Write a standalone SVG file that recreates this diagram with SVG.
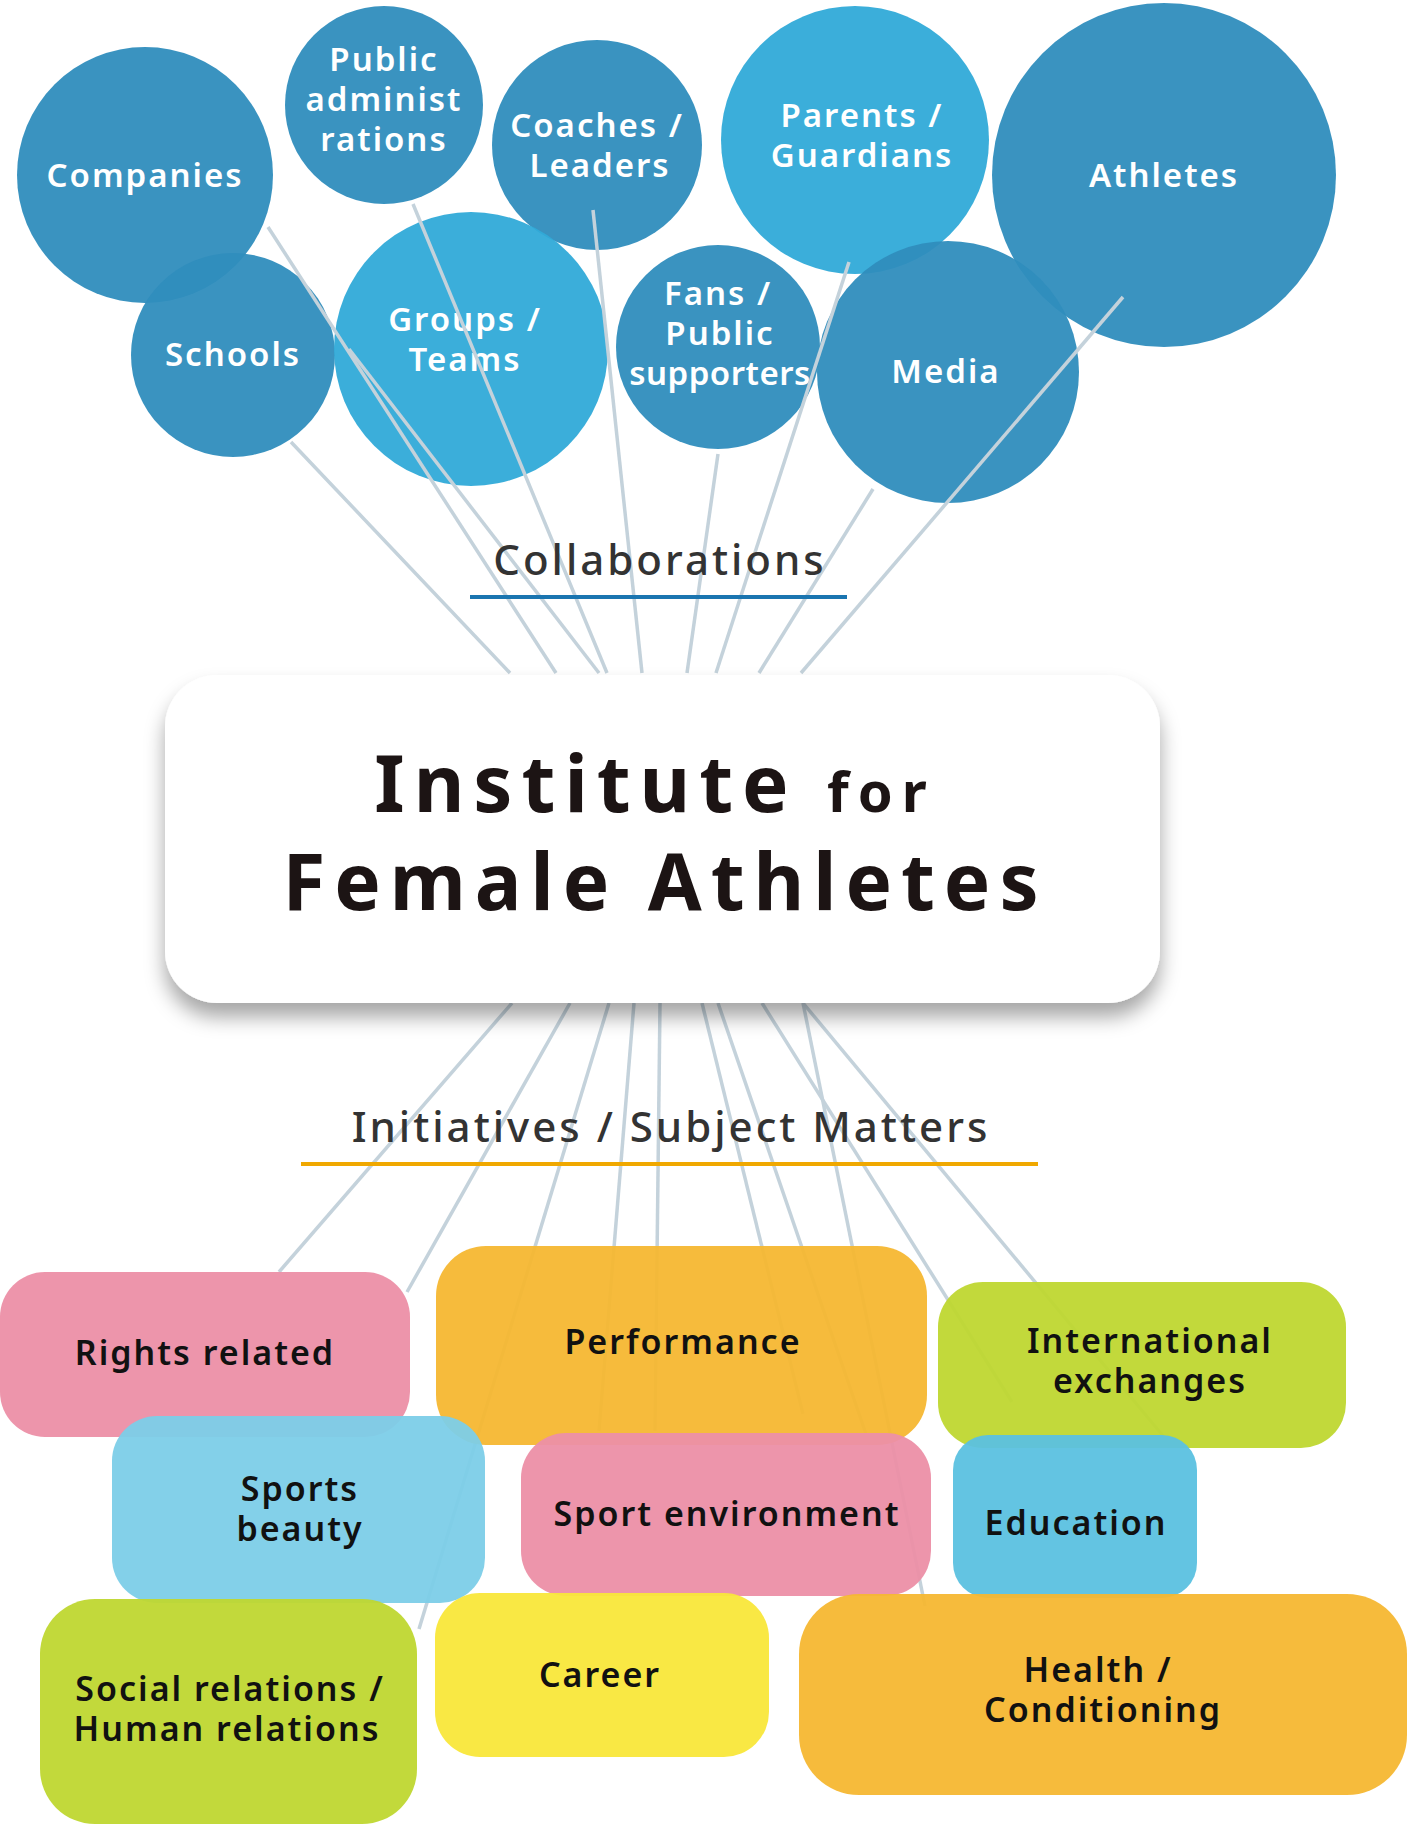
<svg xmlns="http://www.w3.org/2000/svg" width="1408" height="1824" viewBox="0 0 1408 1824">
<defs>
<filter id="sh" x="-10%" y="-10%" width="120%" height="130%"><feDropShadow dx="0" dy="14" stdDeviation="10" flood-color="#000" flood-opacity="0.35"/></filter>
<style>
.d{fill:#2f8dbd;opacity:0.95}
.l{fill:#30aad8;opacity:0.95}
.ct{font-family:"Noto Sans",sans-serif;font-weight:600;font-size:33px;fill:#fff;text-anchor:middle;letter-spacing:2px}
.bt{font-family:"Noto Sans",sans-serif;font-weight:600;font-size:34px;fill:#111;text-anchor:middle;letter-spacing:2px}
.ln{stroke:#c4d2db;stroke-width:3.5;fill:none}
.hd{font-family:"Noto Sans",sans-serif;font-weight:500;font-size:42px;fill:#333;text-anchor:middle;letter-spacing:3px}
</style>
</defs>
<g id="circles">
<g id="companies"><circle class="d" cx="145" cy="175" r="128"/><text class="ct" x="145" y="187">Companies</text></g>
<g id="public"><circle class="d" cx="384" cy="105" r="99"/><text class="ct" x="384" y="71">Public</text><text class="ct" x="384" y="111">administ</text><text class="ct" x="384" y="151">rations</text></g>
<g id="coaches"><circle class="d" cx="597" cy="145" r="105"/><text class="ct" x="597" y="137">Coaches /</text><text class="ct" x="600" y="177">Leaders</text></g>
<g id="parents"><circle class="l" cx="855" cy="140" r="134"/><text class="ct" x="862" y="127">Parents /</text><text class="ct" x="862" y="167">Guardians</text></g>
<g id="athletes"><circle class="d" cx="1164" cy="175" r="172"/><text class="ct" x="1164" y="187">Athletes</text></g>
<g id="schools"><circle class="d" cx="233" cy="355" r="102"/><text class="ct" x="233" y="366">Schools</text></g>
<g id="groups"><circle class="l" cx="471" cy="349" r="137"/><text class="ct" x="465" y="331">Groups /</text><text class="ct" x="465" y="371">Teams</text></g>
<g id="fans"><circle class="d" cx="718" cy="347" r="102"/><text class="ct" x="718" y="305">Fans /</text><text class="ct" x="720" y="345">Public</text><text class="ct" x="720" y="385" style="letter-spacing:0.5px">supporters</text></g>
<g id="media"><circle class="d" cx="948" cy="372" r="131"/><text class="ct" x="946" y="383">Media</text></g>
</g>
<g id="connectors">
<line class="ln" x1="268" y1="227" x2="556" y2="673"/>
<line class="ln" x1="291" y1="442" x2="510" y2="673"/>
<line class="ln" x1="413" y1="204" x2="607" y2="673"/>
<line class="ln" x1="349" y1="349" x2="599" y2="673"/>
<line class="ln" x1="593" y1="210" x2="642" y2="673"/>
<line class="ln" x1="718" y1="454" x2="687" y2="673"/>
<line class="ln" x1="849" y1="262" x2="716" y2="673"/>
<line class="ln" x1="873" y1="489" x2="759" y2="673"/>
<line class="ln" x1="1123" y1="297" x2="801" y2="673"/>
<line class="ln" x1="512" y1="1003" x2="279" y2="1272"/>
<line class="ln" x1="570" y1="1003" x2="407" y2="1292"/>
<line class="ln" x1="609" y1="1003" x2="419" y2="1629"/>
<line class="ln" x1="634" y1="1003" x2="599" y2="1431"/>
<line class="ln" x1="660" y1="1003" x2="655" y2="1431"/>
<line class="ln" x1="702" y1="1003" x2="803" y2="1414"/>
<line class="ln" x1="718" y1="1003" x2="867" y2="1437"/>
<line class="ln" x1="762" y1="1003" x2="1012" y2="1402"/>
<line class="ln" x1="803" y1="1003" x2="1164" y2="1437"/>
<line class="ln" x1="803" y1="1003" x2="925" y2="1606"/>
</g>
<g id="collab"><text class="hd" x="660" y="575">Collaborations</text><rect x="470" y="595" width="377" height="4" fill="#1a75b0"/></g>
<g id="institute">
<rect x="165" y="675" width="995" height="328" rx="52" fill="#fff" filter="url(#sh)"/>
<text x="655" y="812" font-family="Noto Sans,sans-serif" font-weight="700" font-size="78" fill="#1c1414" text-anchor="middle" letter-spacing="9">Institute <tspan font-size="56">for</tspan></text>
<text x="665" y="910" font-family="Noto Sans,sans-serif" font-weight="700" font-size="78" fill="#1c1414" text-anchor="middle" letter-spacing="9">Female Athletes</text>
</g>
<g id="initiatives"><text class="hd" x="671" y="1142">Initiatives / Subject Matters</text><rect x="301" y="1162" width="737" height="4" fill="#f0a800"/></g>
<g id="boxes">
<g id="rights"><rect x="0" y="1272" width="410" height="165" rx="45" fill="#ec8fa6" opacity="0.95"/><text class="bt" x="205" y="1365">Rights related</text></g>
<g id="performance"><rect x="436" y="1246" width="491" height="199" rx="50" fill="#f5b731" opacity="0.95"/><text class="bt" x="683" y="1354">Performance</text></g>
<g id="international"><rect x="938" y="1282" width="408" height="166" rx="45" fill="#bfd730" opacity="0.95"/><text class="bt" x="1150" y="1353">International</text><text class="bt" x="1150" y="1393">exchanges</text></g>
<g id="beauty"><rect x="112" y="1416" width="373" height="187" rx="45" fill="#7ccde8" opacity="0.95"/><text class="bt" x="300" y="1501">Sports</text><text class="bt" x="300" y="1541">beauty</text></g>
<g id="sportenv"><rect x="521" y="1433" width="410" height="163" rx="45" fill="#ec8fa6" opacity="0.95"/><text class="bt" x="727" y="1526">Sport environment</text></g>
<g id="education"><rect x="953" y="1435" width="244" height="163" rx="35" fill="#5bc1e0" opacity="0.95"/><text class="bt" x="1076" y="1535">Education</text></g>
<g id="social"><rect x="40" y="1599" width="377" height="225" rx="55" fill="#bfd730" opacity="0.95"/><text class="bt" x="230" y="1701">Social relations /</text><text class="bt" x="227" y="1741">Human relations</text></g>
<g id="career"><rect x="435" y="1593" width="334" height="164" rx="45" fill="#f9e73a" opacity="0.95"/><text class="bt" x="600" y="1687">Career</text></g>
<g id="health"><rect x="799" y="1594" width="608" height="201" rx="60" fill="#f5b731" opacity="0.95"/><text class="bt" x="1098" y="1682">Health /</text><text class="bt" x="1103" y="1722">Conditioning</text></g>
</g>
</svg>
